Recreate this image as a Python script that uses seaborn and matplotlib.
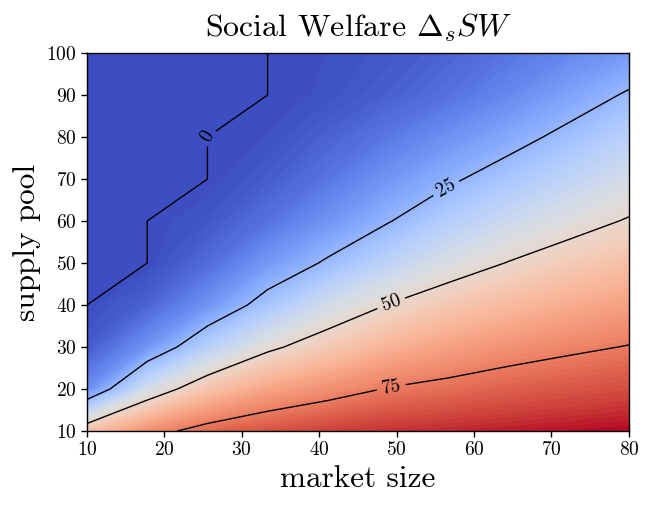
import numpy as np
import matplotlib
matplotlib.use('Agg')
import matplotlib.pyplot as plt
import seaborn as sns

# grid axes
market_size = [10.0, 17.78, 25.56, 33.33, 41.11, 48.89, 56.67, 64.44, 72.22, 80.0]
supply_pool = [10, 20, 30, 40, 50, 60, 70, 80, 90, 100]

# Delta_s SW, one row per supply pool value (bottom -> top)
social_welfare = [
    [57.8, 71.2, 78.8, 82.8, 85.6, 87.7, 88.9, 90.0, 91.0, 92.0],
    [14.2, 42.4, 57.6, 66.2, 71.0, 75.5, 77.8, 80.2, 82.1, 83.7],
    [3.0, 15.9, 34.3, 47.8, 55.9, 62.6, 67.2, 70.6, 73.2, 75.4],
    [0.0, 4.9, 15.7, 29.7, 42.0, 50.3, 56.5, 60.7, 64.3, 67.4],
    [0.0, 0.0, 6.6, 16.9, 26.5, 36.1, 44.3, 50.4, 55.2, 59.2],
    [0.0, 0.0, 2.3, 8.1, 15.7, 24.4, 33.3, 40.1, 45.9, 50.8],
    [0.0, 0.0, 0.0, 3.3, 8.9, 16.1, 23.3, 30.0, 36.6, 42.8],
    [0.0, 0.0, 0.0, 1.1, 4.5, 9.4, 15.0, 21.1, 27.9, 34.7],
    [0.0, 0.0, 0.0, 0.0, 1.4, 4.1, 8.0, 13.1, 19.4, 26.2],
    [0.0, 0.0, 0.0, 0.0, 1.0, 2.5, 5.0, 8.5, 12.5, 17.2],
]
contour_levels = [0, 25, 50, 75]
label_spots = [(25.56, 80.2), (56.4, 67.8), (49.3, 40.4), (49.3, 20.4)]

sns.set_style('ticks')
plt.rcParams['font.family'] = 'serif'
plt.rcParams['font.serif'] = ['cmr10', 'DejaVu Serif']
plt.rcParams['mathtext.fontset'] = 'cm'
plt.rcParams['axes.formatter.use_mathtext'] = True
for key in ['axes.edgecolor', 'xtick.color', 'ytick.color', 'text.color', 'axes.labelcolor']:
    plt.rcParams[key] = 'black'

X, Y = np.meshgrid(market_size, supply_pool)
Z = np.array(social_welfare)
cmap = sns.color_palette('coolwarm', as_cmap=True)

fig, ax = plt.subplots(figsize=(6.49, 5.05), dpi=100)
fig.subplots_adjust(left=0.134, right=0.969, bottom=0.1465, top=0.895)
ax.contourf(X, Y, Z, levels=100, cmap=cmap)
cs = ax.contour(X, Y, Z, levels=contour_levels, colors='black', linewidths=1.0)
ax.clabel(cs, fmt='%d', fontsize=14, inline=True, manual=label_spots)

ax.set_xticks([10, 20, 30, 40, 50, 60, 70, 80])
ax.set_yticks(supply_pool)
ax.tick_params(labelsize=14, length=4, width=1, direction='out')
ax.set_xlabel('market size', fontsize=22.5)
ax.set_ylabel('supply pool', fontsize=22.5)
ax.set_title(r'Social Welfare $\Delta_s SW$', fontsize=23, pad=12)
for s in ax.spines.values():
    s.set_linewidth(1.0)

fig.savefig('out.png', dpi=100)
